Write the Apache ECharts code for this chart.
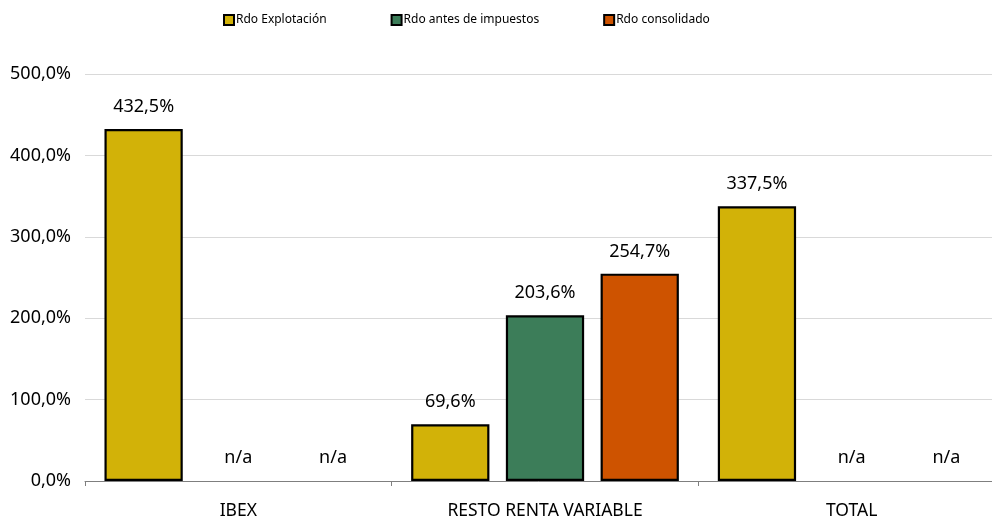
<!DOCTYPE html>
<html><head><meta charset="utf-8">
<script src="https://cdn.jsdelivr.net/npm/echarts@6/dist/echarts.min.js"></script>
<style>html,body{margin:0;padding:0;background:#fff}#c{width:992px;height:524px}</style>
</head><body><div id="c"></div>
<script>
const categories = ['IBEX', 'RESTO RENTA VARIABLE', 'TOTAL'];
const seriesNames = ['Rdo Explotación', 'Rdo antes de impuestos', 'Rdo consolidado'];
const explotacion = [432.5, 69.6, 337.5];
const antesImpuestos = [null, 203.6, null];
const consolidado = [null, 254.7, null];
const yTicks = [0, 100, 200, 300, 400, 500];
const colors = ['#D2B208', '#3C7D59', '#CE5300'];
const FONT = 'Noto Sans';
const fmt = v => v.toFixed(1).replace('.', ',') + '%';

function build(arr) {
  return arr.map(v => v === null
    ? { value: 0, itemStyle: { color: 'transparent', borderWidth: 0 }, label: { formatter: 'n/a', distance: 14 } }
    : { value: v });
}
const chart = echarts.init(document.getElementById('c'), null, { renderer: 'canvas' });
const all = [explotacion, antesImpuestos, consolidado];
chart.setOption({
  animation: false,
  textStyle: { fontFamily: FONT },
  legend: {
    top: 9, left: 218, itemGap: 64, itemWidth: 10, itemHeight: 10,
    textStyle: { fontFamily: FONT, fontSize: 12, color: '#000', padding: [0, 0, 0, -3] },
    data: seriesNames.map(n => ({ name: n, icon: 'rect' }))
  },
  grid: { left: 85, top: 74, right: -13, bottom: 43, containLabel: false, outerBoundsMode: 'none' },
  xAxis: {
    type: 'category', data: categories,
    axisLine: { lineStyle: { color: '#7f7f7f', width: 1 } },
    axisTick: { show: true, length: 5, lineStyle: { color: '#7f7f7f' } },
    axisLabel: { fontFamily: FONT, fontSize: 17.5, color: '#000', margin: 21 }
  },
  yAxis: {
    type: 'value', min: 0, max: 500, interval: 100,
    axisLine: { show: false }, axisTick: { show: false },
    splitLine: { lineStyle: { color: '#d9d9d9', width: 1 } },
    axisLabel: { fontFamily: FONT, fontSize: 18, color: '#000', margin: 14,
      formatter: v => yTicks.includes(v) ? fmt(v) : '' }
  },
  series: all.map((arr, i) => ({
    name: seriesNames[i], type: 'bar', data: build(arr),
    barGap: '21%', barCategoryGap: '12.7%',
    itemStyle: { color: colors[i], borderColor: '#000', borderWidth: 2.2 },
    label: { show: true, position: 'top', distance: 13, fontFamily: FONT, fontSize: 18, color: '#000',
      formatter: p => fmt(p.value) }
  }))
});
</script></body></html>
